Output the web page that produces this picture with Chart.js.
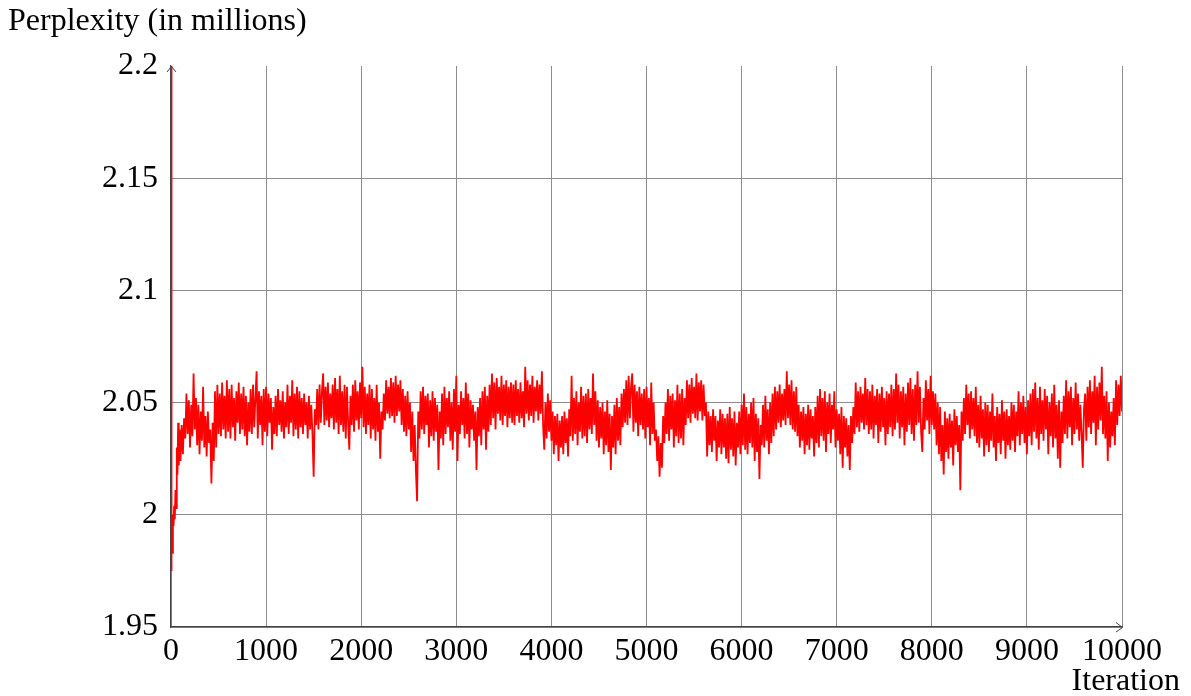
<!DOCTYPE html>
<html>
<head>
<meta charset="utf-8">
<script src="https://cdn.jsdelivr.net/npm/chart.js@4.4.1/dist/chart.umd.min.js"></script>
<style>
  html, body { margin: 0; padding: 0; background: #ffffff; }
  #wrap { width: 1191px; height: 696px; }
</style>
</head>
<body>
<div id="wrap"><canvas id="grafico"></canvas></div>
<script>
// axis ticks
const xTicks = [0, 1000, 2000, 3000, 4000, 5000, 6000, 7000, 8000, 9000, 10000];
const yTicks = [1.95, 2, 2.05, 2.1, 2.15, 2.2];
const yTickLabels = ['1.95', '2', '2.05', '2.1', '2.15', '2.2'];

// first iterations (steep start)
const headIters = [0, 3, 8, 14, 20, 27, 33, 40, 47, 54, 61, 68, 75, 82, 90];
const headValues = [2.21, 1.975, 1.992, 1.983, 2.0, 1.995, 2.004, 1.998, 2.011, 2.003, 2.03, 2.018, 2.041, 2.022, 2.038];

// then one reading every 12.5 iterations, from 100 to 10000
const firstIter = 100;
const iterStep = 12.5;
const perplexity = [
  2.024, 2.040, 2.027, 2.043, 2.034, 2.054, 2.036, 2.051, 2.030, 2.049, 2.035, 2.063, 2.038, 2.052, 2.031, 2.049, 2.027, 2.046, 2.033, 2.057,
  2.030, 2.044, 2.026, 2.046, 2.032, 2.038, 2.014, 2.041, 2.024, 2.055, 2.030, 2.058, 2.036, 2.054, 2.035, 2.059, 2.038, 2.053, 2.034, 2.060,
  2.037, 2.056, 2.034, 2.058, 2.039, 2.052, 2.033, 2.055, 2.041, 2.059, 2.036, 2.054, 2.038, 2.057, 2.035, 2.053, 2.031, 2.050, 2.037, 2.056,
  2.036, 2.058, 2.039, 2.052, 2.064, 2.034, 2.055, 2.040, 2.053, 2.031, 2.056, 2.037, 2.057, 2.035, 2.054, 2.041, 2.052, 2.029, 2.048, 2.036,
  2.053, 2.035, 2.056, 2.040, 2.051, 2.037, 2.055, 2.034, 2.050, 2.039, 2.058, 2.036, 2.053, 2.041, 2.060, 2.035, 2.054, 2.038, 2.057, 2.034,
  2.055, 2.039, 2.052, 2.036, 2.054, 2.040, 2.050, 2.034, 2.053, 2.038, 2.049, 2.036, 2.017, 2.047, 2.040, 2.056, 2.038, 2.058, 2.041, 2.055,
  2.063, 2.040, 2.057, 2.042, 2.059, 2.039, 2.054, 2.043, 2.058, 2.038, 2.061, 2.041, 2.056, 2.036, 2.062, 2.040, 2.055, 2.037, 2.058, 2.034,
  2.057, 2.041, 2.029, 2.053, 2.040, 2.058, 2.037, 2.060, 2.042, 2.055, 2.038, 2.059, 2.043, 2.066, 2.039, 2.057, 2.036, 2.054, 2.040, 2.058,
  2.034, 2.056, 2.038, 2.052, 2.033, 2.058, 2.037, 2.050, 2.025, 2.046, 2.038, 2.054, 2.042, 2.060, 2.045, 2.057, 2.043, 2.061, 2.044, 2.059,
  2.041, 2.062, 2.044, 2.058, 2.046, 2.060, 2.040, 2.056, 2.037, 2.053, 2.035, 2.055, 2.038, 2.050, 2.028, 2.046, 2.024, 2.040, 2.020, 2.006,
  2.046, 2.034, 2.055, 2.038, 2.057, 2.036, 2.053, 2.040, 2.054, 2.030, 2.051, 2.035, 2.055, 2.033, 2.052, 2.037, 2.049, 2.020, 2.046, 2.034,
  2.054, 2.031, 2.057, 2.036, 2.052, 2.039, 2.055, 2.033, 2.050, 2.029, 2.056, 2.037, 2.062, 2.024, 2.049, 2.036, 2.055, 2.040, 2.052, 2.034,
  2.059, 2.036, 2.054, 2.030, 2.051, 2.038, 2.049, 2.033, 2.046, 2.020, 2.048, 2.035, 2.052, 2.031, 2.055, 2.038, 2.057, 2.029, 2.053, 2.037,
  2.058, 2.040, 2.063, 2.043, 2.059, 2.038, 2.061, 2.045, 2.057, 2.042, 2.062, 2.040, 2.058, 2.044, 2.060, 2.039, 2.057, 2.043, 2.059, 2.041,
  2.058, 2.040, 2.060, 2.044, 2.056, 2.041, 2.059, 2.043, 2.055, 2.039, 2.066, 2.045, 2.060, 2.042, 2.058, 2.044, 2.062, 2.041, 2.057, 2.046,
  2.060, 2.042, 2.058, 2.045, 2.064, 2.040, 2.029, 2.050, 2.034, 2.054, 2.037, 2.051, 2.033, 2.046, 2.027, 2.044, 2.031, 2.045, 2.024, 2.042,
  2.030, 2.044, 2.027, 2.046, 2.032, 2.043, 2.026, 2.047, 2.035, 2.062, 2.033, 2.052, 2.036, 2.055, 2.031, 2.050, 2.037, 2.057, 2.034, 2.053,
  2.035, 2.054, 2.032, 2.056, 2.038, 2.052, 2.036, 2.063, 2.040, 2.055, 2.033, 2.051, 2.030, 2.048, 2.034, 2.050, 2.027, 2.046, 2.031, 2.051,
  2.028, 2.045, 2.020, 2.044, 2.030, 2.049, 2.027, 2.052, 2.033, 2.048, 2.031, 2.054, 2.039, 2.056, 2.041, 2.060, 2.040, 2.062, 2.043, 2.057,
  2.063, 2.037, 2.058, 2.041, 2.055, 2.035, 2.057, 2.040, 2.054, 2.038, 2.056, 2.034, 2.057, 2.039, 2.052, 2.031, 2.059, 2.036, 2.050, 2.033,
  2.038, 2.024, 2.035, 2.017, 2.032, 2.021, 2.044, 2.032, 2.050, 2.036, 2.056, 2.033, 2.053, 2.038, 2.054, 2.030, 2.051, 2.035, 2.058, 2.032,
  2.054, 2.034, 2.056, 2.031, 2.052, 2.040, 2.060, 2.043, 2.058, 2.041, 2.061, 2.045, 2.057, 2.043, 2.063, 2.042, 2.059, 2.046, 2.060, 2.042,
  2.058, 2.044, 2.050, 2.026, 2.046, 2.031, 2.044, 2.028, 2.047, 2.033, 2.044, 2.024, 2.042, 2.030, 2.047, 2.027, 2.045, 2.030, 2.043, 2.025,
  2.045, 2.023, 2.048, 2.029, 2.043, 2.026, 2.046, 2.022, 2.041, 2.030, 2.046, 2.027, 2.049, 2.031, 2.054, 2.029, 2.048, 2.027, 2.045, 2.032,
  2.050, 2.030, 2.052, 2.024, 2.045, 2.028, 2.043, 2.016, 2.040, 2.031, 2.049, 2.030, 2.053, 2.033, 2.047, 2.027, 2.050, 2.032, 2.054, 2.035,
  2.057, 2.038, 2.055, 2.041, 2.058, 2.039, 2.054, 2.042, 2.056, 2.040, 2.064, 2.043, 2.058, 2.040, 2.060, 2.038, 2.055, 2.037, 2.057, 2.035,
  2.049, 2.030, 2.046, 2.033, 2.048, 2.027, 2.045, 2.031, 2.049, 2.029, 2.047, 2.034, 2.044, 2.026, 2.048, 2.032, 2.053, 2.030, 2.056, 2.035,
  2.052, 2.033, 2.055, 2.028, 2.050, 2.036, 2.054, 2.032, 2.049, 2.038, 2.055, 2.030, 2.047, 2.033, 2.045, 2.027, 2.048, 2.021, 2.044, 2.030,
  2.043, 2.026, 2.040, 2.020, 2.044, 2.032, 2.048, 2.036, 2.059, 2.039, 2.055, 2.037, 2.057, 2.041, 2.054, 2.038, 2.061, 2.040, 2.056, 2.036,
  2.055, 2.038, 2.058, 2.034, 2.053, 2.040, 2.056, 2.032, 2.054, 2.037, 2.057, 2.039, 2.052, 2.031, 2.055, 2.036, 2.054, 2.039, 2.058, 2.035,
  2.056, 2.038, 2.063, 2.041, 2.058, 2.034, 2.055, 2.039, 2.057, 2.031, 2.054, 2.037, 2.059, 2.040, 2.061, 2.036, 2.056, 2.033, 2.058, 2.040,
  2.064, 2.041, 2.057, 2.037, 2.028, 2.052, 2.038, 2.060, 2.042, 2.056, 2.036, 2.062, 2.040, 2.055, 2.038, 2.054, 2.031, 2.050, 2.027, 2.048,
  2.024, 2.040, 2.018, 2.046, 2.028, 2.043, 2.025, 2.045, 2.030, 2.042, 2.022, 2.047, 2.031, 2.044, 2.028, 2.040, 2.011, 2.046, 2.033, 2.052,
  2.036, 2.058, 2.040, 2.054, 2.034, 2.055, 2.038, 2.052, 2.035, 2.057, 2.032, 2.049, 2.030, 2.053, 2.034, 2.047, 2.026, 2.050, 2.031, 2.049,
  2.028, 2.046, 2.033, 2.054, 2.030, 2.044, 2.024, 2.048, 2.032, 2.045, 2.027, 2.051, 2.033, 2.046, 2.025, 2.047, 2.031, 2.044, 2.029, 2.050,
  2.033, 2.049, 2.028, 2.046, 2.035, 2.055, 2.031, 2.050, 2.036, 2.053, 2.032, 2.048, 2.027, 2.051, 2.035, 2.054, 2.031, 2.056, 2.037, 2.059,
  2.034, 2.052, 2.029, 2.057, 2.036, 2.051, 2.033, 2.056, 2.038, 2.053, 2.027, 2.050, 2.035, 2.054, 2.030, 2.058, 2.034, 2.049, 2.025, 2.051,
  2.021, 2.046, 2.032, 2.053, 2.036, 2.060, 2.034, 2.055, 2.039, 2.057, 2.031, 2.052, 2.036, 2.059, 2.038, 2.054, 2.033, 2.049, 2.036, 2.021,
  2.047, 2.054, 2.033, 2.057, 2.039, 2.060, 2.036, 2.055, 2.041, 2.062, 2.031, 2.057, 2.038, 2.059, 2.042, 2.066, 2.036, 2.053, 2.034, 2.055,
  2.024, 2.050, 2.030, 2.046, 2.035, 2.052, 2.031, 2.060, 2.040, 2.058, 2.044, 2.062, 2.046
];

const pontos = headIters.map((it, i) => ({ x: it, y: headValues[i] }));
perplexity.forEach((v, i) => pontos.push({ x: firstIter + i * iterStep, y: v }));

const fonte = { family: 'Liberation Serif', size: 32 };
const corEixo = '#444444';
const corGrade = '#8c8c8c';

// axis titles and arrow heads, drawn like pgfplots
const extras = {
  id: 'extras',
  afterDraw(chart) {
    const ctx = chart.ctx;
    const a = chart.chartArea;
    ctx.save();
    ctx.strokeStyle = corEixo;
    ctx.lineWidth = 1;
    ctx.beginPath();
    ctx.moveTo(a.left - 4, a.top + 6);
    ctx.lineTo(a.left + 0.5, a.top + 0.5);
    ctx.lineTo(a.left + 5, a.top + 6);
    ctx.moveTo(a.right - 6, a.bottom - 4.5);
    ctx.lineTo(a.right + 0.5, a.bottom + 0.5);
    ctx.lineTo(a.right - 6, a.bottom + 5);
    ctx.stroke();

    ctx.fillStyle = '#000000';
    ctx.font = '32px "Liberation Serif"';
    ctx.textBaseline = 'alphabetic';
    ctx.textAlign = 'left';
    ctx.fillText('Perplexity (in millions)', 8, 30);
    ctx.textAlign = 'right';
    ctx.fillText('Iteration', 1180, 690);
    ctx.restore();
  }
};

new Chart(document.getElementById('grafico'), {
  type: 'line',
  data: {
    datasets: [{
      label: 'Perplexity',
      data: pontos,
      borderColor: '#ff0000',
      borderWidth: 1.8,
      pointRadius: 0,
      tension: 0,
      fill: false
    }]
  },
  options: {
    responsive: true,
    maintainAspectRatio: false,
    animation: false,
    events: [],
    layout: { padding: { left: 0, right: 69, top: 66, bottom: 0 } },
    plugins: {
      legend: { display: false },
      tooltip: { enabled: false }
    },
    scales: {
      x: {
        type: 'linear',
        min: 0,
        max: 10000,
        afterBuildTicks: (scale) => { scale.ticks = xTicks.map(v => ({ value: v })); },
        afterFit: (scale) => { scale.height = 69; },
        ticks: {
          color: '#000000',
          font: fonte,
          padding: 5,
          maxRotation: 0,
          autoSkip: false,
          callback: (v) => String(v)
        },
        grid: { color: corGrade, lineWidth: 1, drawTicks: false },
        border: { color: corEixo, width: 1.2 }
      },
      y: {
        type: 'linear',
        min: 1.95,
        max: 2.2,
        afterBuildTicks: (scale) => { scale.ticks = yTicks.map(v => ({ value: v })); },
        afterFit: (scale) => { scale.width = 171; },
        ticks: {
          color: '#000000',
          font: fonte,
          padding: 13,
          autoSkip: false,
          callback: (v) => yTickLabels[yTicks.findIndex(t => Math.abs(t - v) < 1e-9)]
        },
        grid: {
          color: (c) => (c.tick && Math.abs(c.tick.value - 2.2) < 1e-9) ? 'rgba(0,0,0,0)' : corGrade,
          lineWidth: 1,
          drawTicks: false
        },
        border: { color: corEixo, width: 1.2 }
      }
    }
  },
  plugins: [extras]
});
</script>
</body>
</html>
